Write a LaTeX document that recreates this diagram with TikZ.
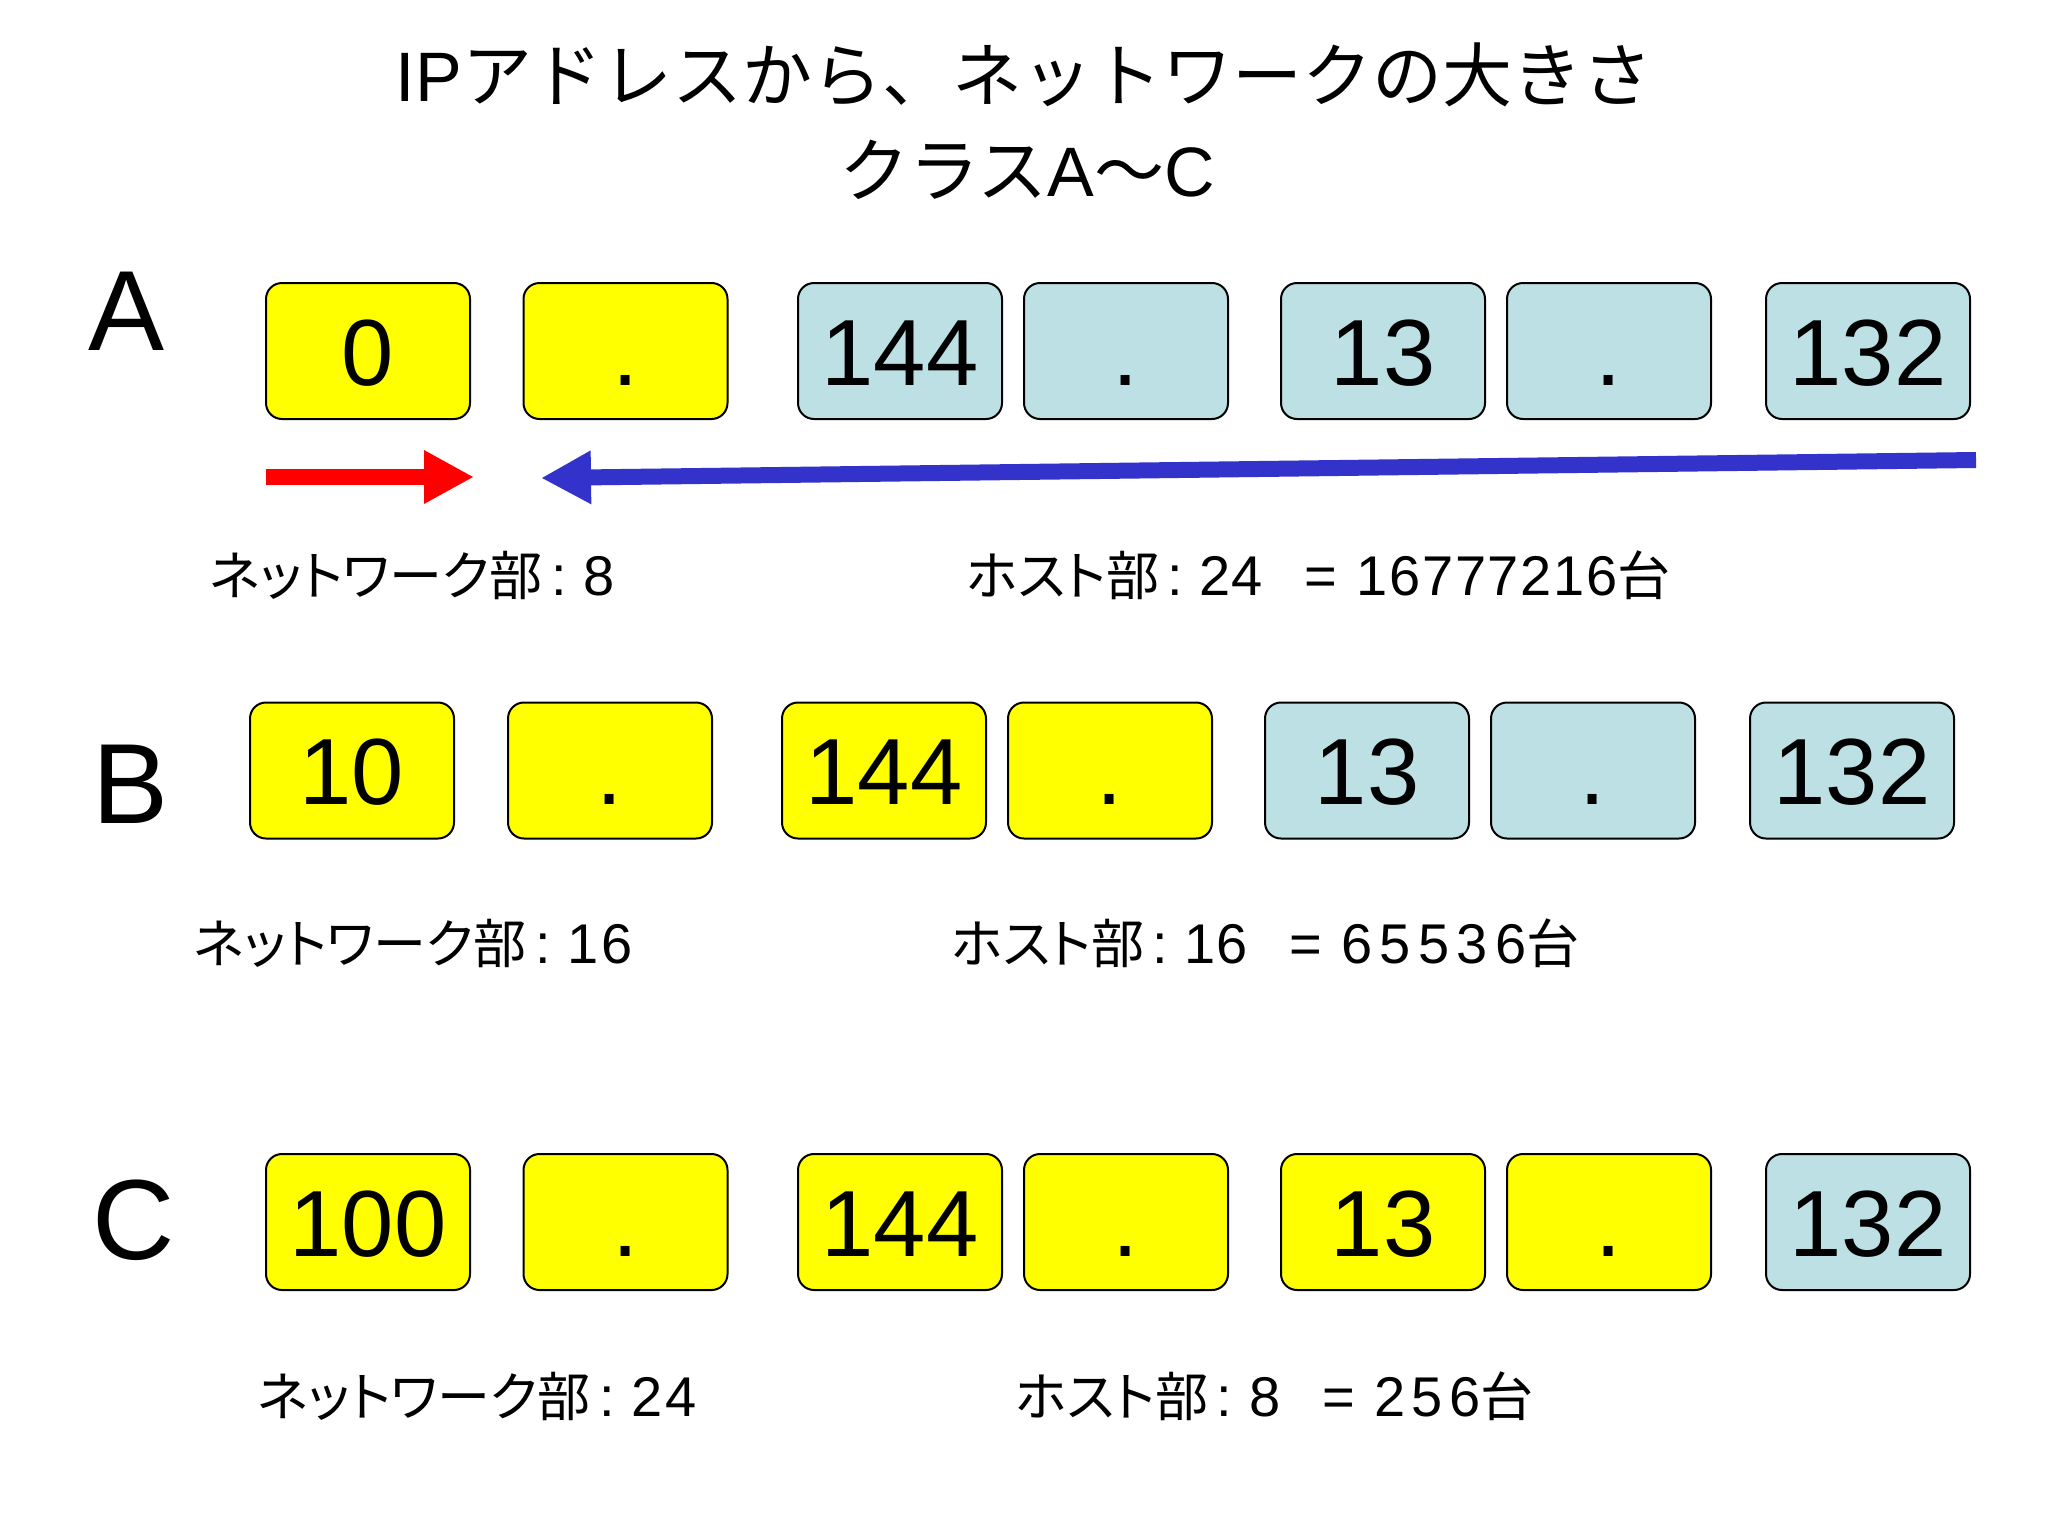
\documentclass[tikz,border=0pt]{standalone}
\usepackage{fontspec}
\setmainfont{Liberation Sans}
\newfontfamily\jp{Noto Sans CJK JP}
\newfontfamily\jpp{Noto Sans CJK JP}[RawFeature=+palt]
\usetikzlibrary{arrows.meta}
\definecolor{boxyellow}{RGB}{255,255,0}
\definecolor{boxblue}{RGB}{189,224,228}
\definecolor{arrowblue}{RGB}{51,51,204}
\definecolor{arrowred}{RGB}{255,0,0}
\newcommand{\jlbl}[1]{{\jpp\fontsize{26.5}{30}\selectfont #1}}
\newcommand{\spaced}[2]{{\addfontfeature{LetterSpace=#1}#2}}
\newcommand{\colsep}{\hspace{0.15em}:\hspace{0.3em}}
\newcommand{\eqsep}{\hspace{0.75em}=\hspace{0.35em}}
\begin{document}
\begin{tikzpicture}[x=0.5pt,y=-0.5pt,
  octet/.style={draw=black, line width=1pt, rounded corners=8pt, minimum width=102pt, minimum height=68pt, inner sep=0pt, text height=34pt, text depth=0pt, font=\fontsize{47}{50}\selectfont},
  netbox/.style={octet, fill=boxyellow},
  hostbox/.style={octet, fill=boxblue},
  cls/.style={font=\fontsize{57}{60}\selectfont, anchor=base, inner sep=0pt},
  lbl/.style={font=\fontsize{28}{30}\selectfont, anchor=base west, inner sep=0pt},
  ttl/.style={font=\fontsize{35}{40}\selectfont, anchor=base, inner sep=0pt},
  fatarrow/.style={line width=8pt, -{Triangle[length=25pt,width=25pt]}}
]
\useasboundingbox[fill=white] (0,0) rectangle (2048,1536);

% title
\node[ttl] (title1) at (1024,102) {IP{\jp アドレスから、ネットワークの大きさ}};
\node[ttl] (title2) at (1027,196) {{\jp クラス}A{\jp 〜}C};

% class A
\node[cls] (clsA) at (127,350) {A};
\node[netbox]  (a1) at (368,351) {0};
\node[netbox]  (a2) at (625.5,351) {.};
\node[hostbox] (a3) at (900,351) {144};
\node[hostbox] (a4) at (1126,351) {.};
\node[hostbox] (a5) at (1383,351) {13};
\node[hostbox] (a6) at (1609,351) {.};
\node[hostbox] (a7) at (1868,351) {132};

\coordinate (redS) at (266,477);
\coordinate (redE) at (474,477);
\coordinate (blueS) at (1976,460);
\coordinate (blueE) at (541,478);
\draw[fatarrow, arrowred] (redS) -- (redE);
\draw[fatarrow, arrowblue] (blueS) -- (blueE);

\node[lbl] (anet) at (209,595) {\jlbl{ネットワーク部}\colsep 8};
\node[lbl] (ahost) at (966,595) {\jlbl{ホスト部}\colsep 24\eqsep\spaced{3}{16777216}\jlbl{台}};

% class B
\node[cls] (clsB) at (131,823) {B};
\node[netbox]  (b1) at (352,770.5) {10};
\node[netbox]  (b2) at (610,770.5) {.};
\node[netbox]  (b3) at (884,770.5) {144};
\node[netbox]  (b4) at (1110,770.5) {.};
\node[hostbox] (b5) at (1367,770.5) {13};
\node[hostbox] (b6) at (1593,770.5) {.};
\node[hostbox] (b7) at (1852,770.5) {132};

\node[lbl] (bnet) at (193,963) {\jlbl{ネットワーク部}\colsep\spaced{6}{16}};
\node[lbl] (bhost) at (951,963) {\jlbl{ホスト部}\colsep 16\eqsep\spaced{13}{65536}\jlbl{台}};

% class C
\node[cls] (clsC) at (134,1259) {C};
\node[netbox]  (c1) at (368,1222) {100};
\node[netbox]  (c2) at (625.5,1222) {.};
\node[netbox]  (c3) at (900,1222) {144};
\node[netbox]  (c4) at (1126,1222) {.};
\node[netbox]  (c5) at (1383,1222) {13};
\node[netbox]  (c6) at (1609,1222) {.};
\node[hostbox] (c7) at (1868,1222) {132};

\node[lbl] (cnet) at (257,1416) {\jlbl{ネットワーク部}\colsep\spaced{6}{24}};
\node[lbl] (chost) at (1015,1416) {\jlbl{ホスト部}\colsep 8\eqsep\spaced{11}{256}\jlbl{台}};
\end{tikzpicture}
\end{document}
